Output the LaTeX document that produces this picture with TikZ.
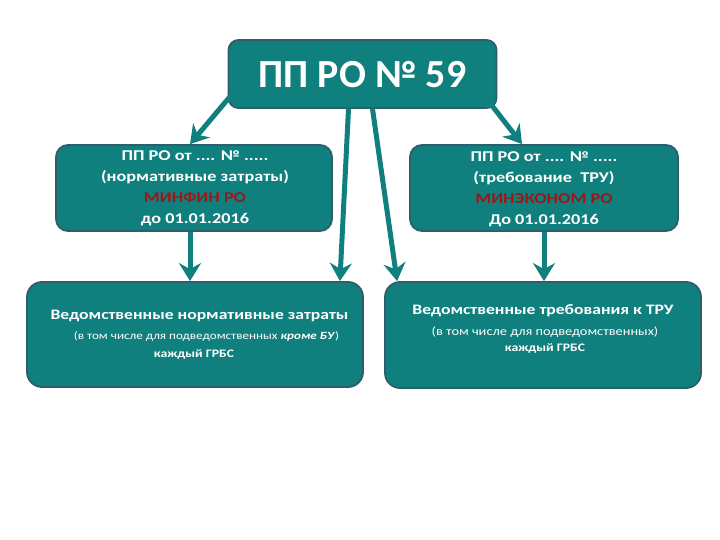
\documentclass[tikz,border=0pt]{standalone}
\usepackage{fontspec}
\setmainfont{Carlito}
\newfontfamily\widefont[FakeStretch=1.22]{Carlito}
\newfontfamily\widerfont[FakeStretch=1.2]{Carlito}
\usetikzlibrary{arrows.meta}
\definecolor{tealfill}{HTML}{10807F}
\definecolor{tealedge}{HTML}{2E5E6E}
\definecolor{redtxt}{HTML}{9A1818}
\begin{document}
\begin{tikzpicture}[x=1bp,y=-1bp,
  box/.style={draw=tealedge, line width=1.8bp, fill=tealfill, rounded corners=#1, inner sep=0pt},
  wtxt/.style={text=white, inner sep=0pt, align=center},
  conn/.style={draw=tealfill, line width=5bp, -{Stealth[length=18bp,width=22bp,inset=6bp]}}
]
\useasboundingbox (0,0) rectangle (720,540);
% boxes
\node[box=10bp, minimum width=268bp, minimum height=68bp] (top) at (362.5,74) {};
\node[box=12bp, minimum width=276bp, minimum height=86bp] (m1) at (194,188) {};
\node[box=12bp, minimum width=268bp, minimum height=86bp] (m2) at (544,188) {};
\node[box=15bp, minimum width=336bp, minimum height=105bp] (b1) at (195,334.5) {};
\node[box=15bp, minimum width=316bp, minimum height=106bp] (b2) at (543,335) {};
% texts
\node[wtxt, font=\fontsize{40}{42}\selectfont\bfseries] (ttl) at (362.5,75) {ПП РО № 59};
\node[wtxt, font=\widefont\fontsize{15}{21}\selectfont\bfseries] (m1t) at (195,188.5)
  {ПП РО от .... № .....\\(нормативные затраты)\\\textcolor{redtxt}{МИНФИН РО}\\до 01.01.2016};
\node[wtxt, font=\widefont\fontsize{15}{21}\selectfont\bfseries] (m2t) at (544,189)
  {ПП РО от .... № .....\\(требование~ ТРУ)\\\textcolor{redtxt}{МИНЭКОНОМ РО}\\До 01.01.2016};
\node[wtxt, font=\widefont\fontsize{14.5}{16}\selectfont\bfseries] (b1a) at (199.5,316) {Ведомственные нормативные затраты};
\node[wtxt, font=\widerfont\fontsize{11}{13}\selectfont] (b1b) at (206.5,336) {(в том числе для подведомственных \textbf{\textit{кроме БУ}})};
\node[wtxt, font=\widerfont\fontsize{11.5}{13}\selectfont\bfseries] (b1c) at (194,355) {каждый ГРБС};
\node[wtxt, font=\widefont\fontsize{14.5}{16}\selectfont\bfseries] (b2a) at (543,311) {Ведомственные требования к ТРУ};
\node[wtxt, font=\widerfont\fontsize{12}{13}\selectfont] (b2b) at (545,332) {(в том числе для подведомственных)};
\node[wtxt, font=\widerfont\fontsize{11.5}{13}\selectfont\bfseries] (b2c) at (545,349) {каждый ГРБС};
% connectors
\draw[conn] ([xshift=3bp,yshift=13bp]top.south west) -- ([xshift=-4bp]m1.north);
\draw[conn] ([xshift=-14bp]top.south) -- ([xshift=-24bp]b1.north east);
\draw[conn] ([xshift=10bp]top.south) -- ([xshift=13bp]b2.north west);
\draw[conn] ([xshift=-6bp,yshift=4bp]top.south east) -- ([xshift=-22bp]m2.north);
\draw[conn] ([xshift=-4bp]m1.south) -- ([xshift=-5bp]b1.north);
\draw[conn] (m2.south) -- ([xshift=1bp]b2.north);
\end{tikzpicture}
\end{document}
